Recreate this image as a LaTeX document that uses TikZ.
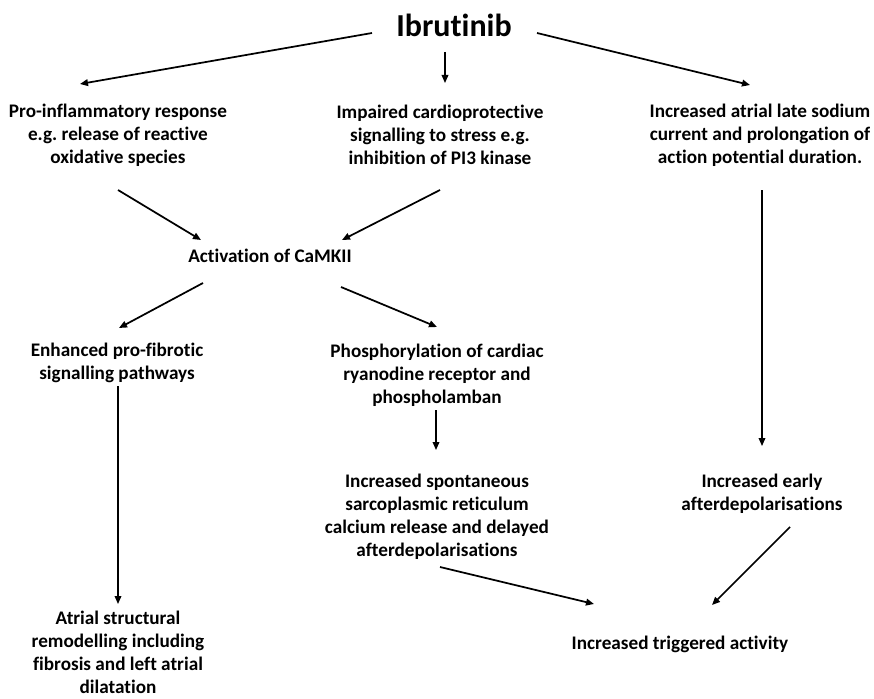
\documentclass[tikz,border=0pt]{standalone}
\usepackage{fontspec}
\setmainfont{Carlito}[Ligatures=NoCommon]
\usetikzlibrary{arrows.meta}
\tikzset{
  txt/.style={align=center, inner sep=0pt, font=\frenchspacing\fontsize{14.4}{17.3}\selectfont\bfseries},
  arr/.style={-{Triangle[length=6pt,width=5pt]}, line width=1.3pt},
  varr/.style={-{Triangle[length=6pt,width=5pt]}, line width=1pt}
}
\begin{document}
\begin{tikzpicture}[x=0.75pt,y=-0.75pt]
\useasboundingbox (0,0) rectangle (874,699);
\fill[white] (0,0) rectangle (874,699);
\node[txt, font=\fontsize{24}{26}\selectfont\bfseries] (ibr) at (454,25) {Ibrutinib};
\node[txt] (pro) at (118,135) {Pro-inflammatory response\\e.g. release of reactive\\oxidative species};
\node[txt] (imp) at (440,135) {Impaired cardioprotective\\signalling to stress e.g.\\inhibition of PI3 kinase};
\node[txt] (sod) at (760,135) {Increased atrial late sodium\\current and prolongation of\\action potential duration.};
\node[txt] (cam) at (270,256) {Activation of CaMKII};
\node[txt] (fib) at (117,363) {Enhanced pro-fibrotic\\signalling pathways};
\node[txt] (pho) at (437,375) {Phosphorylation of cardiac\\ryanodine receptor and\\phospholamban};
\node[txt] (spo) at (437,517) {Increased spontaneous\\sarcoplasmic reticulum\\calcium release and delayed\\afterdepolarisations};
\node[txt] (ead) at (762,494) {Increased early\\afterdepolarisations};
\node[txt] (trg) at (680,644) {Increased triggered activity};
\node[txt] (rem) at (118,652) {Atrial structural\\remodelling including\\fibrosis and left atrial\\dilatation};

\coordinate (a1s) at (372,33);  \coordinate (a1e) at (80,84);
\coordinate (a2s) at (445,52);  \coordinate (a2e) at (445,83);
\coordinate (a3s) at (537,33);  \coordinate (a3e) at (750,85);
\coordinate (a4s) at (118,190); \coordinate (a4e) at (201,240);
\coordinate (a5s) at (440,190); \coordinate (a5e) at (342,240);
\coordinate (a6s) at (762,190); \coordinate (a6e) at (762,446);
\coordinate (a7s) at (203,283); \coordinate (a7e) at (119,328);
\coordinate (a8s) at (341,287); \coordinate (a8e) at (437,327);
\coordinate (a9s) at (118,386); \coordinate (a9e) at (118,604);
\coordinate (a10s) at (436,410); \coordinate (a10e) at (436,450);
\coordinate (a11s) at (440,567); \coordinate (a11e) at (594,604);
\coordinate (a12s) at (790,527); \coordinate (a12e) at (712,605);

\draw[arr] (a1s) -- (a1e);
\draw[varr] (a2s) -- (a2e);
\draw[arr] (a3s) -- (a3e);
\draw[arr] (a4s) -- (a4e);
\draw[arr] (a5s) -- (a5e);
\draw[varr] (a6s) -- (a6e);
\draw[arr] (a7s) -- (a7e);
\draw[arr] (a8s) -- (a8e);
\draw[varr] (a9s) -- (a9e);
\draw[varr] (a10s) -- (a10e);
\draw[arr] (a11s) -- (a11e);
\draw[arr] (a12s) -- (a12e);
\end{tikzpicture}
\end{document}
